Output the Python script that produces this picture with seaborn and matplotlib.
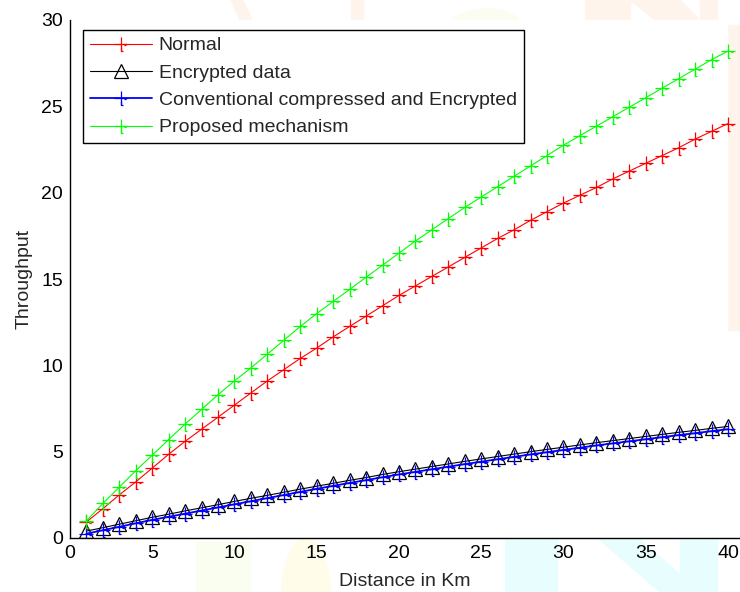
import numpy as np
import pandas as pd
import seaborn as sns
import matplotlib.pyplot as plt
from matplotlib.path import Path
from matplotlib.patches import Rectangle, Polygon, Ellipse

# ----- data -----
distance = list(range(1, 41))

normal = [0.93, 1.7, 2.5, 3.25, 4.05, 4.85, 5.6, 6.3, 7.0, 7.7,
          8.4, 9.1, 9.75, 10.4, 11.0, 11.65, 12.25, 12.85, 13.45, 14.05,
          14.6, 15.15, 15.7, 16.25, 16.8, 17.35, 17.85, 18.4, 18.9, 19.4,
          19.85, 20.3, 20.8, 21.25, 21.7, 22.15, 22.6, 23.1, 23.55, 24.0]

encrypted = [0.4, 0.6, 0.8, 1.0, 1.2, 1.38, 1.57, 1.75, 1.93, 2.12,
             2.3, 2.47, 2.65, 2.83, 3.0, 3.17, 3.34, 3.5, 3.68, 3.84,
             3.99, 4.14, 4.29, 4.44, 4.58, 4.72, 4.86, 5.0, 5.13, 5.26,
             5.39, 5.52, 5.64, 5.76, 5.88, 6.0, 6.12, 6.23, 6.35, 6.46]

conventional = [0.25, 0.45, 0.65, 0.85, 1.05, 1.23, 1.41, 1.59, 1.77, 1.95,
                2.13, 2.31, 2.49, 2.67, 2.85, 3.02, 3.19, 3.35, 3.52, 3.68,
                3.83, 3.98, 4.13, 4.28, 4.42, 4.56, 4.70, 4.84, 4.97, 5.10,
                5.23, 5.36, 5.48, 5.60, 5.72, 5.84, 5.96, 6.07, 6.19, 6.30]

proposed = [1.0, 2.0, 2.95, 3.9, 4.8, 5.7, 6.6, 7.45, 8.3, 9.1,
            9.85, 10.65, 11.45, 12.25, 13.0, 13.7, 14.4, 15.1, 15.8, 16.5,
            17.2, 17.85, 18.5, 19.15, 19.75, 20.35, 20.95, 21.55, 22.15, 22.75,
            23.3, 23.85, 24.4, 24.95, 25.5, 26.05, 26.6, 27.15, 27.7, 28.2]

labels = ["Normal", "Encrypted data",
          "Conventional compressed and Encrypted", "Proposed mechanism"]

# plus with the little hook that the old renderer left under each marker
verts = [(-1, 0), (1, 0), (0, -1), (0, 1),
         (0, -0.5), (0, -1.0), (0.3, -1.0),
         (0.4, -0.15), (0.8, -0.15)]
codes = [Path.MOVETO, Path.LINETO, Path.MOVETO, Path.LINETO,
         Path.MOVETO, Path.LINETO, Path.LINETO,
         Path.MOVETO, Path.LINETO]
plus_hook = Path(verts, codes)

W, H = 740, 592


def fx(x):
    return x / W


def fy(y):
    return 1 - y / H


def add_watermark(fig):
    # faint page watermark showing around the plot
    yellow, green_y, orange, cyan = "#fffcea", "#fafef0", "#fff4ec", "#e8fdfd"
    tf = fig.transFigure
    shapes = [
        Polygon([(fx(231), fy(0)), (fx(243), fy(0)), (fx(252), fy(20)), (fx(240), fy(20))],
                closed=True, color=orange, transform=tf),
        Rectangle((fx(351), fy(20)), 12 / W, 20 / H, color=orange, transform=tf),
        Ellipse((fx(486), fy(24)), 68 / W, 30 / H, color=green_y, transform=tf),
        Rectangle((fx(585), fy(20)), 45 / W, 20 / H, color=orange, transform=tf),
        Polygon([(fx(630), fy(0)), (fx(680), fy(0)), (fx(700), fy(20)), (fx(655), fy(20))],
                closed=True, color=orange, transform=tf),
        Rectangle((fx(700), fy(20)), 17 / W, 20 / H, color=orange, transform=tf),
        Rectangle((fx(727), fy(330)), 13 / W, 305 / H, color=orange, transform=tf),
        Rectangle((fx(196), fy(592)), 54 / W, 50 / H, color=green_y, transform=tf),
        Ellipse((fx(306), fy(600)), 50 / W, 124 / H, color=yellow, transform=tf),
        Rectangle((fx(505), fy(592)), 52 / W, 52 / H, color=cyan, transform=tf),
        Polygon([(fx(600), fy(540)), (fx(640), fy(540)), (fx(700), fy(592)), (fx(660), fy(592))],
                closed=True, color=cyan, transform=tf),
        Rectangle((fx(680), fy(592)), 37 / W, 52 / H, color=cyan, transform=tf),
        # white plot area on top of the watermark
        Rectangle((fx(70), fy(538)), 657 / W, 518 / H, color="white", transform=tf),
    ]
    for s in shapes:
        s.set_zorder(-5)
        fig.patches.append(s)


def main():
    sns.set_style("white")
    plt.rcParams["font.family"] = ["Liberation Sans", "DejaVu Sans"]
    plt.rcParams["font.size"] = 14

    df = pd.DataFrame({"distance": distance, "normal": normal,
                       "encrypted": encrypted, "conventional": conventional,
                       "proposed": proposed})

    fig = plt.figure(figsize=(7.4, 5.92), dpi=100, facecolor="white")
    add_watermark(fig)
    ax = fig.add_axes([70 / W, 1 - 538 / H, 670 / W, 518 / H])
    ax.set_facecolor("none")
    ax.set_zorder(1)

    plus_kw = dict(marker=plus_hook, markersize=9.5, markeredgewidth=0.9,
                   markerfacecolor="none")
    sns.lineplot(data=df, x="distance", y="normal", ax=ax, color=(1, 0, 0),
                 markeredgecolor=(1, 0, 0), linewidth=0.8, label=labels[0],
                 **plus_kw)
    sns.lineplot(data=df, x="distance", y="encrypted", ax=ax, color="black",
                 marker="^", markersize=10, markerfacecolor="none",
                 markeredgecolor="black", markeredgewidth=0.9,
                 linewidth=0.8, label=labels[1])
    sns.lineplot(data=df, x="distance", y="conventional", ax=ax, color=(0, 0, 1),
                 markeredgecolor=(0, 0, 1), linewidth=1.3, label=labels[2],
                 **plus_kw)
    sns.lineplot(data=df, x="distance", y="proposed", ax=ax, color=(0, 1, 0),
                 markeredgecolor=(0, 1, 0), linewidth=0.8, label=labels[3],
                 **plus_kw)

    ax.set_xlim(0, 40.73)
    ax.set_ylim(0, 30)
    ax.set_xticks(np.arange(0, 41, 5))
    ax.set_yticks(np.arange(0, 31, 5))
    ax.tick_params(direction="in", length=5, width=0.8, pad=5,
                   labelsize=14, colors="black")
    ax.set_xlabel("Distance in Km", fontsize=14, labelpad=8)
    ax.set_ylabel("Throughput", fontsize=14, labelpad=6)

    for side in ["top", "right"]:
        ax.spines[side].set_visible(False)
    for side in ["left", "bottom"]:
        ax.spines[side].set_color("black")
        ax.spines[side].set_linewidth(1.0)

    leg = ax.legend(loc="upper left", bbox_to_anchor=(13 / 670, 1 - 10 / 518),
                    borderaxespad=0, fancybox=False, framealpha=1,
                    edgecolor="black", fontsize=14, handlelength=3.2,
                    handletextpad=0.35, labelspacing=0.5, borderpad=0.35,
                    numpoints=1)
    leg.get_frame().set_linewidth(1.0)

    fig.savefig("out.png", dpi=100, facecolor="white")


if __name__ == "__main__":
    main()
